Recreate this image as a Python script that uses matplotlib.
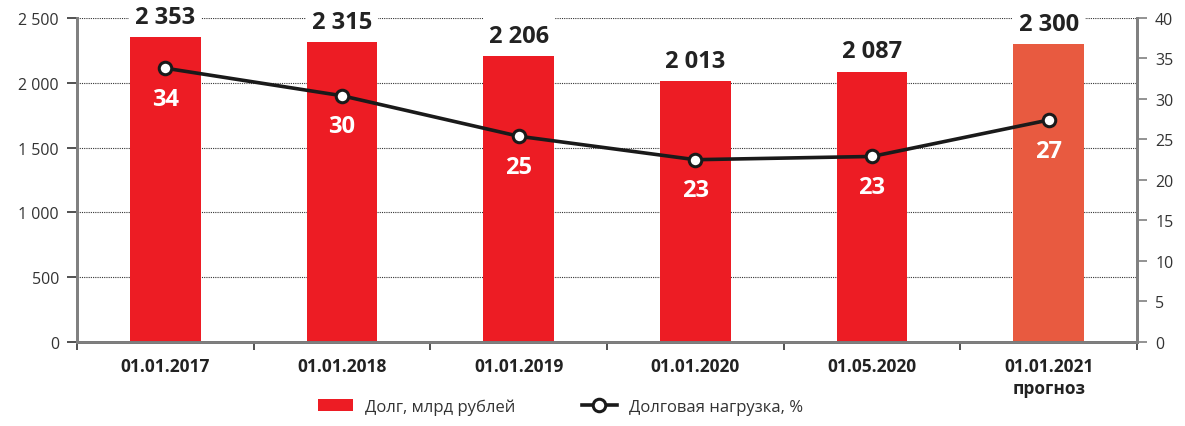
import matplotlib
matplotlib.use("Agg")
import matplotlib.pyplot as plt
import numpy as np
from matplotlib.lines import Line2D
from matplotlib.patches import Patch

plt.rcParams['font.family'] = ['Open Sans', 'DejaVu Sans']

kategoriler = ["01.01.2017", "01.01.2018", "01.01.2019", "01.01.2020", "01.05.2020", "01.01.2021\nпрогноз"]
borc = [2353, 2315, 2206, 2013, 2087, 2300]
borc_etiket = ["2 353", "2 315", "2 206", "2 013", "2 087", "2 300"]
yuk = [33.8, 30.4, 25.4, 22.5, 22.9, 27.4]
yuk_etiket = ["34", "30", "25", "23", "23", "27"]

kirmizi = "#ED1C24"
turuncu = "#E85A40"
gri = "#808080"
renkler = [kirmizi] * 5 + [turuncu]

fig = plt.figure(figsize=(11.85, 4.27), dpi=100)
ax = fig.add_axes([0.065, 0.197, 0.8945, 0.7585])
ax2 = ax.twinx()

x = np.arange(len(kategoriler))

ax.set_ylim(0, 2500)
ax.set_xlim(-0.5, len(kategoriler) - 0.5)
ax.set_yticks(np.arange(0, 2501, 500))
ax.set_yticklabels(["0", "500", "1 000", "1 500", "2 000", "2 500"])
ax.yaxis.grid(True, linestyle=(0, (1, 1)), color="#333333", linewidth=0.8)
ax.set_axisbelow(True)
ax.bar(x, borc, width=0.4, color=renkler, zorder=2)

for xi, v, e in zip(x, borc, borc_etiket):
    ax.annotate(e, (xi, v), xytext=(0, 14.5), textcoords="offset points",
                ha="center", va="center", fontsize=17, fontweight="bold",
                color="#222222", zorder=5,
                bbox=dict(boxstyle="square,pad=0.25", fc="white", ec="none"))

# x ekseni
ax.set_xticks(x)
ax.set_xticklabels(kategoriler, fontsize=12.5, fontweight="bold", color="#222222",
                   linespacing=1.25)
ax.set_xticks(np.arange(-0.5, len(kategoriler), 1), minor=True)
ax.tick_params(axis="x", which="major", length=0, pad=11)
ax.tick_params(axis="x", which="minor", length=6, width=1.2, color="#333333")
ax.tick_params(axis="y", length=7, width=1.2, color="#333333", labelsize=11.5,
               labelcolor="#333333", pad=6)

ax2.set_ylim(0, 40)
ax2.set_yticks(np.arange(0, 41, 5))
ax2.tick_params(axis="y", length=7, width=1.2, color=gri, labelsize=11.5,
                labelcolor="#333333", pad=6)
ax2.plot(x, yuk, color="#1a1a1a", linewidth=2.6, marker="o", markersize=9,
         markerfacecolor="white", markeredgecolor="#1a1a1a", markeredgewidth=2.2,
         zorder=4)
for xi, v, e in zip(x, yuk, yuk_etiket):
    ax2.annotate(e, (xi, v), xytext=(0, -22), textcoords="offset points",
                 ha="center", va="center", fontsize=17, fontweight="bold",
                 color="white")

for a in (ax, ax2):
    a.spines["top"].set_visible(False)
    for s in ("left", "right", "bottom"):
        a.spines[s].set_color(gri)
        a.spines[s].set_linewidth(2)
ax.spines["bottom"].set_color("#444444")

elemanlar = [Patch(facecolor=kirmizi, edgecolor="none", label="Долг, млрд рублей"),
             Line2D([0], [0], color="#1a1a1a", linewidth=2.6, marker="o", markersize=9,
                    markerfacecolor="white", markeredgecolor="#1a1a1a",
                    markeredgewidth=2.2, label="Долговая нагрузка, %")]
fig.legend(handles=elemanlar, loc="center", bbox_to_anchor=(0.473, 0.045), ncol=2,
           frameon=False, fontsize=12, columnspacing=4, handlelength=2.1,
           handletextpad=0.7, labelcolor="#333333")

fig.savefig("out.png", dpi=100)
